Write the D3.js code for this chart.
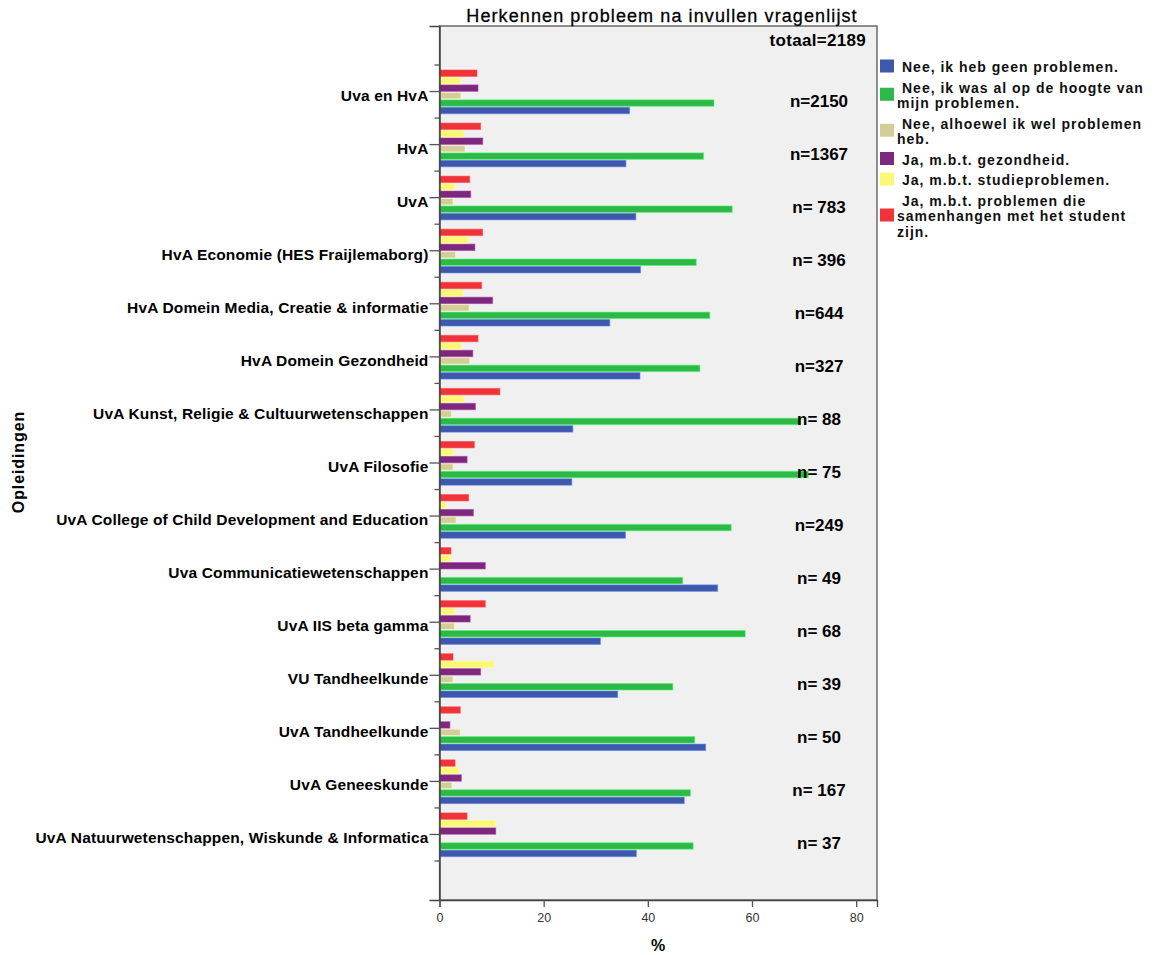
<!DOCTYPE html>
<html><head><meta charset="utf-8">
<script src="https://cdn.jsdelivr.net/npm/d3@7"></script>
<style>
body{margin:0;background:#fff;}
text{font-family:"Liberation Sans",Arial,sans-serif;}
</style>
</head><body><svg id="chart" width="1160" height="955"></svg>
<script>
const categories = [
  "Uva en HvA", "HvA", "UvA", "HvA Economie (HES Fraijlemaborg)",
  "HvA Domein Media, Creatie & informatie", "HvA Domein Gezondheid",
  "UvA Kunst, Religie & Cultuurwetenschappen", "UvA Filosofie",
  "UvA College of Child Development and Education", "Uva Communicatiewetenschappen",
  "UvA IIS beta gamma", "VU Tandheelkunde", "UvA Tandheelkunde", "UvA Geneeskunde",
  "UvA Natuurwetenschappen, Wiskunde & Informatica"
];
const seriesKeys = ["geen", "hoogte", "alhoewel", "gezondheid", "studie", "studentZijn"];
const legendLines = [
  ["Nee, ik heb geen problemen."],
  ["Nee, ik was al op de hoogte van", "mijn problemen."],
  ["Nee, alhoewel ik wel problemen", "heb."],
  ["Ja, m.b.t. gezondheid."],
  ["Ja, m.b.t. studieproblemen."],
  ["Ja, m.b.t. problemen die", "samenhangen met het student", "zijn."]
];
const seriesColors = ["#3e58ac", "#2eb848", "#d3ce97", "#7b287d", "#fbf873", "#ef3338"];
const pctGeen        = [36.4, 35.7, 37.6, 38.5, 32.6, 38.4, 25.5, 25.3, 35.6, 53.3, 30.8, 34.1, 51.0, 46.9, 37.7];
const pctHoogte      = [52.6, 50.6, 56.1, 49.2, 51.8, 49.9, 69.3, 70.7, 55.9, 46.6, 58.6, 44.7, 48.9, 48.1, 48.6];
const pctAlhoewel    = [4.0, 4.8, 2.5, 3.0, 5.6, 5.7, 2.2, 2.5, 3.1, 0, 2.8, 2.5, 3.9, 2.3, 0];
const pctGezondheid  = [7.3, 8.2, 5.9, 6.7, 10.1, 6.3, 6.8, 5.2, 6.4, 8.7, 5.8, 7.8, 1.9, 4.1, 10.7];
const pctStudie      = [3.9, 4.6, 2.8, 5.4, 4.4, 4.1, 4.6, 2.5, 1.1, 2.1, 2.8, 10.3, 0, 3.6, 10.7];
const pctStudentZijn = [7.1, 7.8, 5.7, 8.2, 8.0, 7.3, 11.5, 6.6, 5.5, 2.1, 8.7, 2.5, 3.9, 2.9, 5.2];
const nLabels = ["n=2150", "n=1367", "n= 783", "n= 396", "n=644", "n=327", "n= 88", "n= 75",
                 "n=249", "n= 49", "n= 68", "n= 39", "n= 50", "n= 167", "n= 37"];
const chartTitle = "Herkennen probleem na invullen vragenlijst";
const totalLabel = "totaal=2189";
const xTickValues = [0, 20, 40, 60, 80];
const xTitle = "%";
const yTitle = "Opleidingen";

const seriesValues = [pctGeen, pctHoogte, pctAlhoewel, pctGezondheid, pctStudie, pctStudentZijn];

const svg = d3.select("#chart");
const plot = {left: 439.5, right: 877, top: 26, bottom: 900};

const x = d3.scaleLinear().domain([0, 84]).range([plot.left, plot.right]);
const y = d3.scaleBand().domain(categories).range([plot.top, plot.bottom])
  .paddingInner(0).paddingOuter(0.735);
const bw = y.bandwidth();
// bars from top to bottom: red, yellow, purple, tan, green, blue
const sub = d3.scaleBand().domain(seriesKeys.slice().reverse())
  .range([bw * 0.094, bw * 0.918]).paddingInner(0.14).paddingOuter(0);

// plot background
svg.append("rect").attr("x", plot.left).attr("y", plot.top)
  .attr("width", plot.right - plot.left).attr("height", plot.bottom - plot.top)
  .attr("fill", "#f0f0f0").attr("stroke", "#555").attr("stroke-width", 1.3);

// bars
const rows = [];
categories.forEach((c, i) => {
  seriesKeys.forEach((k, s) => {
    rows.push({cat: c, key: k, color: seriesColors[s], value: seriesValues[s][i]});
  });
});
svg.append("g").selectAll("rect").data(rows.filter(d => d.value > 0)).join("rect")
  .attr("x", x(0) + 0.5)
  .attr("y", d => y(d.cat) + sub(d.key))
  .attr("width", d => x(d.value) - x(0))
  .attr("height", sub.bandwidth())
  .attr("fill", d => d.color)
  .attr("stroke", d => d3.color(d.color).brighter(0.9))
  .attr("stroke-opacity", 0.55)
  .attr("stroke-width", 1);

// n labels
svg.append("g").selectAll("text").data(categories).join("text")
  .attr("x", 819).attr("y", d => y(d) + bw / 2 + 15)
  .attr("text-anchor", "middle").attr("font-weight", "bold").attr("font-size", 17)
  .attr("fill", "#000").style("white-space", "pre")
  .text((d, i) => nLabels[i]);

svg.append("text").attr("x", 866).attr("y", 46).attr("text-anchor", "end")
  .attr("font-weight", "bold").attr("font-size", 17).attr("letter-spacing", 0.3)
  .text(totalLabel);

// y axis
const yAxis = svg.append("g").attr("transform", `translate(${plot.left},0)`)
  .call(d3.axisLeft(y).tickSize(10).tickPadding(1));
yAxis.select(".domain").attr("stroke", "#444").attr("stroke-width", 1.5);
yAxis.selectAll(".tick line").attr("stroke", "#555").attr("stroke-width", 1.3);
yAxis.selectAll(".tick text").attr("font-family", "Liberation Sans, Arial, sans-serif")
  .attr("font-size", 15.5).attr("font-weight", "bold").attr("letter-spacing", 0.15)
  .attr("fill", "#000").attr("dy", "0.58em");
// minor ticks at band boundaries
const bounds = categories.map(c => y(c)).concat([y(categories[categories.length - 1]) + bw]);
svg.append("g").selectAll("line").data(bounds).join("line")
  .attr("x1", plot.left - 5).attr("x2", plot.left)
  .attr("y1", d => d).attr("y2", d => d)
  .attr("stroke", "#555").attr("stroke-width", 1.3);

// x axis
const xAxis = svg.append("g").attr("transform", `translate(0,${plot.bottom})`)
  .call(d3.axisBottom(x).tickValues(xTickValues).tickSize(7).tickPadding(6));
xAxis.select(".domain").attr("stroke", "#444").attr("stroke-width", 1.3);
xAxis.selectAll(".tick line").attr("stroke", "#555").attr("stroke-width", 1.3);
xAxis.selectAll(".tick text").attr("font-family", "Liberation Sans, Arial, sans-serif")
  .attr("font-size", 12.5).attr("fill", "#333");

// titles
svg.append("text").attr("x", 662).attr("y", 22).attr("text-anchor", "middle")
  .attr("font-size", 18).attr("letter-spacing", 1.1).attr("fill", "#000")
  .attr("stroke", "#000").attr("stroke-width", 0.3)
  .text(chartTitle);
svg.append("text").attr("x", 658).attr("y", 951).attr("text-anchor", "middle")
  .attr("font-size", 16).attr("font-weight", "bold").text(xTitle);
svg.append("text").attr("transform", "translate(24,462) rotate(-90)")
  .attr("text-anchor", "middle").attr("font-size", 16).attr("font-weight", "bold")
  .attr("letter-spacing", 0.9).text(yTitle);

// legend
const lg = svg.append("g");
const lineStep = 15.5;
let cy = 67;
legendLines.forEach((lines, s) => {
  const first = cy, last = cy + (lines.length - 1) * lineStep;
  lg.append("rect").attr("x", 880).attr("y", (first + last) / 2 - 1 - 6.5)
    .attr("width", 14).attr("height", 13).attr("fill", seriesColors[s]);
  lines.forEach((ln, j) => {
    lg.append("text").attr("x", j === 0 ? 902 : 897).attr("y", cy + j * lineStep + 5)
      .attr("font-size", 14).attr("font-weight", "bold").attr("letter-spacing", 1.0)
      .attr("fill", "#111").text(ln);
  });
  cy = last + 20.5;
});
</script>
</body></html>
